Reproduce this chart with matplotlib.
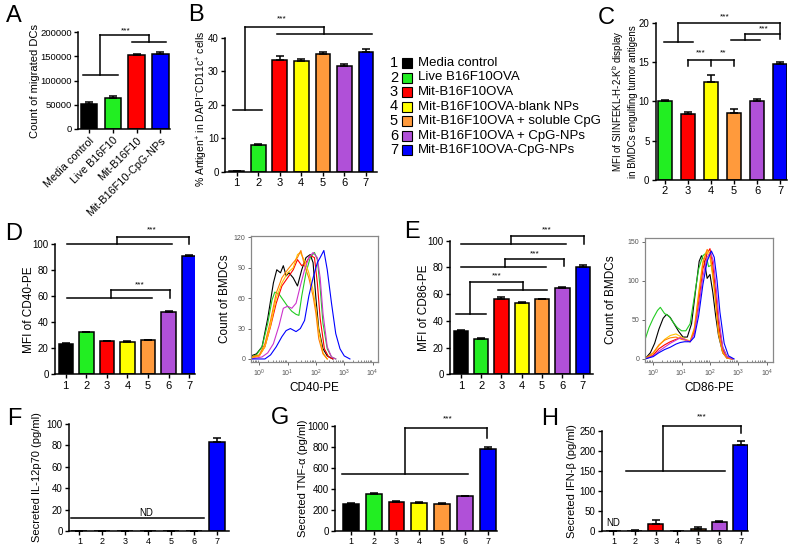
import numpy as np
import matplotlib
matplotlib.use('Agg')
from matplotlib import pyplot as plt
from matplotlib.patches import Rectangle
from matplotlib.ticker import LogLocator, NullFormatter

plt.rcParams['font.family'] = ['Liberation Sans', 'DejaVu Sans']
plt.rcParams['mathtext.default'] = 'regular'

W, H = 800, 551

# colores de los grupos 1..7
COLORES = ['#000000', '#22ee22', '#ff0000', '#ffff00', '#ff9a3c', '#b050d8', '#0000ff']
COLORES_HIST = ['#000000', '#22cc22', '#ff0000', '#ffc400', '#ff7f00', '#cc33cc', '#0000ff']
GRUPOS = [1, 2, 3, 4, 5, 6, 7]

LEYENDA = ['Media control', 'Live B16F10OVA', 'Mit-B16F10OVA', 'Mit-B16F10OVA-blank NPs',
           'Mit-B16F10OVA + soluble CpG', 'Mit-B16F10OVA + CpG-NPs', 'Mit-B16F10OVA-CpG-NPs']

# panel A
a_cats = ['Media control', 'Live B16F10', 'Mit-B16F10', 'Mit-B16F10-CpG-NPs']
a_vals = [52000, 63000, 153000, 154000]
a_err = [3000, 6000, 2000, 4000]
a_cols = ['#000000', '#22ee22', '#ff0000', '#0000ff']

# panel B
b_vals = [0.2, 8.0, 33.5, 33.0, 35.0, 31.5, 35.6]
b_err = [0.1, 0.3, 1.0, 0.6, 0.8, 0.6, 0.9]

# panel C (grupos 2..7)
c_grupos = [2, 3, 4, 5, 6, 7]
c_vals = [10.1, 8.4, 12.4, 8.5, 10.1, 14.7]
c_err = [0.1, 0.2, 0.9, 0.5, 0.2, 0.25]

# panel D y E
d_vals = [23.5, 32.5, 25.5, 25.0, 26.3, 48.3, 91.0]
d_err = [0.5, 0.4, 0.4, 0.4, 0.4, 0.6, 0.4]
e_vals = [32.5, 26.5, 56.0, 53.5, 56.0, 64.5, 80.5]
e_err = [0.7, 0.6, 1.5, 0.6, 0.5, 0.5, 1.5]

# panel F, G, H
f_vals = [0, 0, 0, 0, 0, 0, 83]
f_err = [0, 0, 0, 0, 0, 0, 4]
g_vals = [260, 348, 275, 270, 258, 333, 780]
g_err = [8, 12, 8, 10, 8, 5, 20]
h_vals = [0, 1, 18, 0.5, 5, 23, 215]
h_err = [0, 1, 10, 0.5, 5, 3, 10]

# histogramas CD40 (log10 del eje x, cuentas)
d_hist_x = [
    [-0.29, -0.1, 0.1, 0.3, 0.5, 0.62, 0.75, 0.85, 0.95, 1.05, 1.2, 1.35, 1.5, 1.65, 1.8, 1.9, 2.0, 2.1, 2.25, 2.4, 2.6],
    [-0.29, -0.1, 0.1, 0.3, 0.45, 0.55, 0.7, 0.85, 1.0, 1.15, 1.3, 1.4, 1.5, 1.65, 1.8, 1.95, 2.05, 2.15, 2.25, 2.4, 2.55, 2.7],
    [-0.29, 0.0, 0.2, 0.4, 0.6, 0.8, 1.0, 1.2, 1.35, 1.5, 1.65, 1.8, 1.95, 2.05, 2.15, 2.3, 2.45, 2.6],
    [-0.29, 0.0, 0.2, 0.4, 0.6, 0.8, 1.0, 1.2, 1.35, 1.45, 1.6, 1.75, 1.9, 2.0, 2.1, 2.25, 2.4],
    [-0.29, 0.0, 0.2, 0.4, 0.6, 0.8, 1.0, 1.2, 1.35, 1.47, 1.6, 1.75, 1.9, 2.0, 2.1, 2.25, 2.4],
    [-0.29, 0.1, 0.3, 0.5, 0.7, 0.85, 1.0, 1.15, 1.3, 1.45, 1.6, 1.75, 1.9, 2.05, 2.15, 2.25, 2.4, 2.55, 2.7],
    [-0.29, 0.2, 0.4, 0.6, 0.8, 0.95, 1.1, 1.3, 1.45, 1.6, 1.75, 1.9, 2.05, 2.15, 2.28, 2.4, 2.55, 2.7, 2.85, 3.0, 3.2],
]
d_hist_y = [
    [3, 5, 12, 40, 75, 88, 85, 92, 82, 85, 80, 72, 88, 100, 103, 95, 60, 30, 10, 3, 0],
    [2, 4, 12, 35, 58, 66, 64, 58, 52, 47, 44, 43, 62, 85, 100, 105, 98, 70, 35, 10, 2, 0],
    [1, 3, 12, 32, 55, 72, 80, 88, 98, 92, 95, 102, 100, 75, 40, 10, 2, 0],
    [1, 3, 12, 33, 60, 75, 85, 90, 103, 105, 97, 85, 68, 50, 28, 6, 0],
    [2, 4, 15, 38, 65, 80, 88, 95, 100, 107, 92, 80, 62, 45, 20, 5, 0],
    [0, 2, 6, 15, 33, 50, 52, 50, 55, 72, 88, 100, 105, 100, 80, 45, 12, 2, 0],
    [0, 0, 4, 12, 22, 28, 30, 27, 30, 38, 62, 80, 95, 100, 107, 88, 55, 25, 10, 3, 0],
]

# histogramas CD86
e_hist_x = [
    [-0.29, -0.1, 0.05, 0.2, 0.35, 0.47, 0.6, 0.75, 0.9, 1.05, 1.2, 1.35, 1.5, 1.62, 1.7, 1.8, 1.9, 2.0, 2.1, 2.2, 2.3, 2.45, 2.6, 2.8],
    [-0.29, -0.285, -0.15, 0.0, 0.15, 0.25, 0.4, 0.55, 0.7, 0.85, 1.0, 1.15, 1.3, 1.45, 1.6, 1.75, 1.85, 1.95, 2.05, 2.15, 2.3, 2.45, 2.6, 2.8],
    [-0.29, 0.0, 0.2, 0.4, 0.6, 0.8, 0.95, 1.1, 1.3, 1.45, 1.6, 1.75, 1.9, 2.0, 2.1, 2.2, 2.3, 2.45, 2.6, 2.8],
    [-0.29, 0.0, 0.2, 0.4, 0.6, 0.8, 1.0, 1.15, 1.3, 1.45, 1.6, 1.75, 1.88, 2.0, 2.1, 2.2, 2.3, 2.45, 2.6, 2.8],
    [-0.29, 0.0, 0.2, 0.4, 0.6, 0.8, 1.0, 1.15, 1.3, 1.45, 1.6, 1.75, 1.9, 2.0, 2.1, 2.2, 2.3, 2.45, 2.6, 2.8],
    [-0.29, 0.0, 0.2, 0.4, 0.6, 0.8, 0.95, 1.1, 1.3, 1.45, 1.6, 1.75, 1.9, 2.02, 2.12, 2.22, 2.32, 2.45, 2.6, 2.8],
    [-0.29, 0.0, 0.2, 0.4, 0.6, 0.8, 0.95, 1.1, 1.3, 1.45, 1.6, 1.75, 1.9, 2.05, 2.15, 2.25, 2.35, 2.5, 2.65, 2.85],
]
e_hist_y = [
    [0, 8, 20, 38, 52, 57, 53, 44, 35, 28, 28, 45, 90, 125, 132, 125, 103, 108, 85, 55, 30, 8, 1, 0],
    [150, 25, 40, 52, 62, 66, 58, 55, 47, 40, 36, 36, 45, 80, 115, 132, 135, 118, 120, 95, 45, 15, 3, 0],
    [0, 5, 13, 18, 22, 25, 27, 25, 22, 35, 72, 115, 135, 141, 120, 85, 45, 12, 2, 0],
    [0, 7, 17, 25, 30, 32, 28, 25, 23, 40, 85, 125, 138, 130, 105, 70, 32, 8, 1, 0],
    [0, 8, 18, 24, 27, 28, 25, 24, 22, 38, 80, 122, 140, 135, 110, 75, 35, 8, 1, 0],
    [0, 4, 10, 15, 20, 24, 27, 25, 22, 32, 65, 105, 130, 136, 125, 90, 50, 15, 3, 0],
    [0, 3, 8, 12, 15, 19, 21, 22, 22, 28, 55, 95, 125, 138, 130, 100, 60, 20, 4, 0],
]


def crear_ejes(fig, izq, arriba, der, abajo):
    # posicion en pixeles -> fraccion de figura
    return fig.add_axes([izq / W, 1 - abajo / H, (der - izq) / W, (abajo - arriba) / H])


def estilo_barras(ax, xlim, ylim, yticks, xs=None, fs_x=8, fs_y=7):
    ax.set_xlim(*xlim)
    ax.set_ylim(*ylim)
    ax.set_yticks(yticks)
    for s in ['top', 'right']:
        ax.spines[s].set_visible(False)
    for s in ['left', 'bottom']:
        ax.spines[s].set_linewidth(1.1)
    ax.tick_params(direction='out', length=3, width=1.0, labelsize=fs_y, pad=1.5)
    ax.tick_params(axis='x', labelsize=fs_x)
    if xs is not None:
        ax.set_xticks(xs)


def barras(ax, xs, vals, err, cols, ancho=0.68):
    ax.bar(xs, vals, width=ancho, color=cols, edgecolor='k', linewidth=1.1, zorder=2)
    ax.errorbar(xs, vals, yerr=[np.zeros(len(err)), err], fmt='none', ecolor='k',
                elinewidth=1.1, capsize=2.8, capthick=1.1, zorder=3)


def corchete(ax, segs, texto=None, pos=None, fs=6):
    for xs, ys in segs:
        ax.plot(xs, ys, color='k', lw=1.1, clip_on=False, zorder=4)
    if texto is not None:
        ax.text(pos[0], pos[1], texto, ha='center', va='center', fontsize=fs, clip_on=False)


def etiqueta_y(ax, texto, px, izq, der, fs=8.5, yc=0.5):
    ax.set_ylabel(texto, fontsize=fs, va='center')
    ax.yaxis.set_label_coords((px - izq) / (der - izq), yc)


def histograma(ax, xs_list, ys_list, ylim, yticks, xlim_log):
    for xs, ys, c in zip(xs_list, ys_list, COLORES_HIST):
        ax.plot(10 ** np.array(xs), ys, color=c, lw=0.8)
    ax.set_xscale('log')
    ax.set_xlim(10 ** xlim_log[0], 10 ** xlim_log[1])
    ax.set_ylim(*ylim)
    ax.set_yticks(yticks)
    ax.set_xticks([1, 10, 100, 1000, 10000])
    ax.set_xticklabels(['$10^0$', '$10^1$', '$10^2$', '$10^3$', '$10^4$'])
    ax.xaxis.set_minor_locator(LogLocator(base=10, subs=np.arange(2, 10), numticks=20))
    ax.xaxis.set_minor_formatter(NullFormatter())
    for s in ax.spines.values():
        s.set_color('#888888')
        s.set_linewidth(0.9)
    ax.tick_params(axis='both', which='major', labelsize=5, colors='#555555', length=2.5,
                   width=0.6, pad=1.5, direction='out')
    ax.tick_params(axis='x', which='minor', length=1.8, width=0.5, colors='#555555', direction='in')


def main():
    fig = plt.figure(figsize=(W / 100, H / 100), dpi=100)

    # A
    ax = crear_ejes(fig, 78, 32, 170, 129)
    xa = np.arange(len(a_vals))
    barras(ax, xa, a_vals, a_err, a_cols, ancho=0.68)
    estilo_barras(ax, (-0.45, 3.4), (0, 200000), [0, 50000, 100000, 150000, 200000], xa, fs_y=6.8)
    ax.set_xticklabels(a_cats, rotation=45, ha='right', rotation_mode='anchor', fontsize=7.8)
    etiqueta_y(ax, 'Count of migrated DCs', 35, 78, 170, fs=8)
    corchete(ax, [((-0.22, 1.22), (111000, 111000)), ((0.47, 0.47), (111000, 194000)),
                  ((0.47, 2.51), (194000, 194000)), ((2.51, 2.51), (194000, 180000)),
                  ((1.82, 3.25), (180000, 180000))], '***', (1.55, 203000))

    # B
    ax = crear_ejes(fig, 225, 37.7, 376.7, 172)
    barras(ax, GRUPOS, b_vals, b_err, COLORES)
    estilo_barras(ax, (0.46, 7.5), (0, 40), [0, 10, 20, 30, 40], GRUPOS)
    etiqueta_y(ax, '% Antigen$^{+}$ in DAPI$^{-}$CD11c$^{+}$ cells', 202, 225, 376.7, fs=7.5,
               yc=0.47)
    corchete(ax, [((0.81, 2.16), (18.6, 18.6)), ((1.39, 1.39), (18.6, 43.2)),
                  ((1.39, 5.07), (43.2, 43.2)), ((5.07, 5.07), (43.2, 41.0)),
                  ((2.85, 7.26), (41.0, 41.0))], '***', (3.1, 45.7))

    # C
    ax = crear_ejes(fig, 655.7, 22.7, 786.7, 180)
    barras(ax, c_grupos, c_vals, c_err, COLORES[1:], ancho=0.6)
    estilo_barras(ax, (1.6, 7.29), (0, 20), [0, 5, 10, 15, 20], c_grupos)
    etiqueta_y(ax, 'MFI of SIINFEKL-H-2-K$^{b}$ display\nin BMDCs engulfing tumor antigens',
               624, 655.7, 786.7, fs=7)
    corchete(ax, [((1.97, 3.21), (17.6, 17.6)), ((2.58, 2.58), (17.6, 19.9)),
                  ((2.58, 7.0), (19.9, 19.9)), ((7.0, 7.0), (19.9, 17.9))], '***', (4.6, 20.7))
    corchete(ax, [((4.87, 6.13), (17.8, 17.8)), ((5.5, 5.5), (17.8, 18.56)),
                  ((5.5, 7.0), (18.56, 18.56))], '***', (6.3, 19.2))
    corchete(ax, [((3.0, 5.0), (15.26, 15.26)), ((3.0, 3.0), (15.26, 14.5)),
                  ((4.0, 4.0), (15.26, 14.5)), ((5.0, 5.0), (15.26, 14.5))])
    ax.text(3.55, 16.1, '***', ha='center', va='center', fontsize=6)
    ax.text(4.55, 16.1, '**', ha='center', va='center', fontsize=6)

    # leyenda de B
    sup = fig.add_axes([0, 0, 1, 1], zorder=10)
    sup.set_xlim(0, W)
    sup.set_ylim(H, 0)
    sup.axis('off')
    for i, (lab, col) in enumerate(zip(LEYENDA, COLORES)):
        y = 63 + i * 14.5
        sup.text(394, y, str(GRUPOS[i]), ha='center', va='center', fontsize=10.5)
        sup.add_patch(Rectangle((402, y - 5), 10, 10, facecolor=col, edgecolor='k', lw=0.8))
        sup.text(418, y, lab, ha='left', va='center', fontsize=9.5)
    # letras de panel
    for letra, x, y in [('A', 14, 16), ('B', 196, 15), ('C', 606, 18), ('D', 14, 234),
                        ('E', 412, 232), ('F', 14, 419), ('G', 280, 418), ('H', 550, 419)]:
        sup.text(x, y, letra, ha='center', va='center', fontsize=17)

    # D
    ax = crear_ejes(fig, 55, 244.3, 195, 374.3)
    barras(ax, GRUPOS, d_vals, d_err, COLORES, ancho=0.7)
    estilo_barras(ax, (0.48, 7.28), (0, 100), [0, 20, 40, 60, 80, 100], GRUPOS)
    etiqueta_y(ax, 'MFI of CD40-PE', 29, 55, 195, fs=8.5)
    corchete(ax, [((1.05, 6.15), (100, 100)), ((3.5, 3.5), (100, 105.8)),
                  ((3.5, 7.0), (105.8, 105.8)), ((7.0, 7.0), (105.8, 100))], '***', (5.2, 111))
    corchete(ax, [((1.05, 5.2), (58.9, 58.9)), ((3.2, 3.2), (58.9, 64.8)),
                  ((3.2, 6.06), (64.8, 64.8)), ((6.06, 6.06), (64.8, 58.9))], '***', (4.6, 69))

    ax = crear_ejes(fig, 251, 236, 377.7, 361.7)
    histograma(ax, d_hist_x, d_hist_y, (-2.7, 121.3), [0, 30, 60, 90, 120], (-0.29, 4.18))
    etiqueta_y(ax, 'Count of BMDCs', 225, 251, 377.7, fs=8.5)
    ax.set_xlabel('CD40-PE', fontsize=8.5, va='center')
    ax.xaxis.set_label_coords(0.5, -(388 - 361.7) / 125.7)

    # E
    ax = crear_ejes(fig, 450, 240.7, 593.3, 374.3)
    barras(ax, GRUPOS, e_vals, e_err, COLORES, ancho=0.7)
    estilo_barras(ax, (0.47, 7.52), (0, 100), [0, 20, 40, 60, 80, 100], GRUPOS)
    etiqueta_y(ax, 'MFI of CD86-PE', 424, 450, 593.3, fs=8.5)
    corchete(ax, [((1.0, 6.17), (97.5, 97.5)), ((3.48, 3.48), (97.5, 103.5)),
                  ((3.48, 7.04), (103.5, 103.5)), ((7.04, 7.04), (103.5, 97.5))], '***', (5.24, 108))
    corchete(ax, [((1.0, 5.2), (80.5, 80.5)), ((3.18, 3.18), (80.5, 86.3)),
                  ((3.18, 6.09), (86.3, 86.3)), ((6.09, 6.09), (86.3, 81))], '***', (4.66, 90))
    corchete(ax, [((0.77, 2.25), (45.1, 45.1)), ((1.46, 1.46), (45.1, 68.8)),
                  ((1.46, 4.08), (68.8, 68.8)), ((4.08, 4.08), (68.8, 63.1)),
                  ((2.82, 5.24), (63.1, 63.1))], '***', (2.77, 73.8))

    ax = crear_ejes(fig, 645, 237.7, 772.7, 361.7)
    histograma(ax, e_hist_x, e_hist_y, (-3.5, 155), [0, 50, 100, 150], (-0.29, 4.21))
    etiqueta_y(ax, 'Count of BMDCs', 610.7, 645, 772.7, fs=8.5)
    ax.set_xlabel('CD86-PE', fontsize=8.5, va='center')
    ax.xaxis.set_label_coords(0.5, -(388 - 361.7) / 124)

    # F
    ax = crear_ejes(fig, 69, 424, 229.3, 531)
    barras(ax, GRUPOS, f_vals, f_err, COLORES, ancho=0.7)
    estilo_barras(ax, (0.55, 7.52), (0, 100), [0, 20, 40, 60, 80, 100], GRUPOS, fs_x=6.5)
    etiqueta_y(ax, 'Secreted IL-12p70 (pg/ml)', 37, 69, 229.3, fs=8)
    corchete(ax, [((0.62, 6.42), (11.9, 11.9))], 'ND', (3.9, 17), fs=7)

    # G
    ax = crear_ejes(fig, 335, 426, 496.7, 531)
    barras(ax, GRUPOS, g_vals, g_err, COLORES, ancho=0.7)
    estilo_barras(ax, (0.3, 7.4), (0, 1000), [0, 200, 400, 600, 800, 1000], GRUPOS, fs_x=6.5)
    etiqueta_y(ax, 'Secreted TNF-α (pg/ml)', 303, 335, 496.7, fs=8)
    corchete(ax, [((0.6, 6.15), (543, 543)), ((3.38, 3.38), (543, 978)),
                  ((3.38, 6.98), (978, 978)), ((6.98, 6.98), (978, 883))], '***', (5.26, 1064))

    # H
    ax = crear_ejes(fig, 601.7, 431, 748.3, 531)
    barras(ax, GRUPOS, h_vals, h_err, COLORES, ancho=0.7)
    estilo_barras(ax, (0.45, 7.36), (0, 250), [0, 50, 100, 150, 200, 250], GRUPOS, fs_x=6.5)
    etiqueta_y(ax, 'Secreted IFN-β (pg/ml)', 572, 601.7, 748.3, fs=8)
    corchete(ax, [((1.58, 6.27), (150, 150)), ((3.36, 3.36), (150, 262)),
                  ((3.36, 7.0), (262, 262)), ((7.0, 7.0), (262, 244))], '***', (5.17, 286))
    ax.text(1.0, 21, 'ND', ha='center', va='center', fontsize=7)

    fig.savefig('out.png', dpi=100)


if __name__ == "__main__":
    main()
